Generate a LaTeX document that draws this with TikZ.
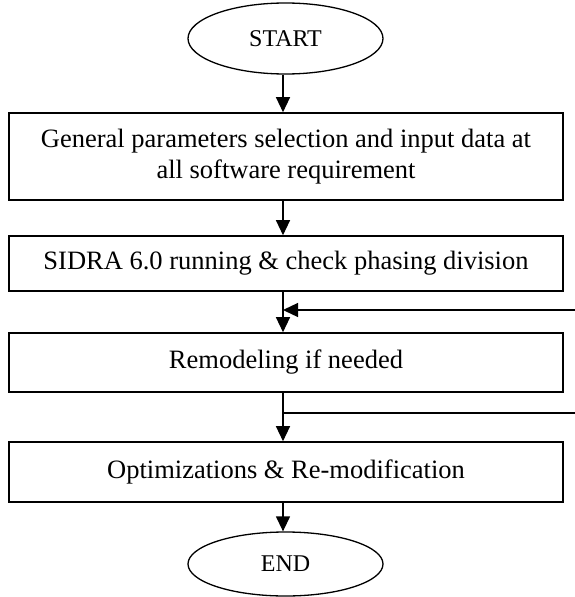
\documentclass[tikz,border=0pt]{standalone}
\usepackage{fontspec}
\setmainfont{Liberation Serif}
\usetikzlibrary{arrows.meta,shapes.geometric,calc}
\begin{document}
\begin{tikzpicture}[x=1pt,y=-1pt,
  procbox/.style={draw,line width=1.6pt,minimum width=554pt,inner sep=0pt,align=center,font=\fontsize{26.5}{31}\selectfont},
  term/.style={draw,ellipse,line width=1.3pt,minimum width=195pt,inner sep=0pt,font=\fontsize{24}{28}\selectfont},
  flow/.style={line width=1.3pt,-{Triangle[length=15pt,width=14pt]}},
  plain/.style={line width=1.3pt}]
\useasboundingbox (0,0) rectangle (575,597);
\coordinate (axis) at (283,0);
\node[term,minimum height=71pt] (start) at (285.5,38.5) {START};
\node[procbox,minimum height=87pt] (b1) at (286,156.5) {General parameters selection and input data at\\all software requirement};
\node[procbox,minimum height=55pt] (b2) at (286,263.5) {SIDRA 6.0 running \& check phasing division};
\node[procbox,minimum height=59pt] (b3) at (286,362.5) {Remodeling if needed};
\node[procbox,minimum height=60pt] (b4) at (286,472) {Optimizations \& Re-modification};
\node[term,minimum height=64pt] (end) at (285.5,564) {END};
\coordinate (fb1) at (575,310);
\coordinate (fb2) at (575,413);
\draw[flow] (start.south -| axis) -- (b1.north -| axis);
\draw[flow] (b1.south -| axis) -- (b2.north -| axis);
\draw[flow] (b2.south -| axis) -- (b3.north -| axis);
\draw[flow] (b3.south -| axis) -- (b4.north -| axis);
\draw[flow] (b4.south -| axis) -- (end.north -| axis);
\draw[flow] (fb1) -- (fb1 -| axis);
\draw[plain] (fb2 -| axis) -- (fb2);
\end{tikzpicture}
\end{document}
